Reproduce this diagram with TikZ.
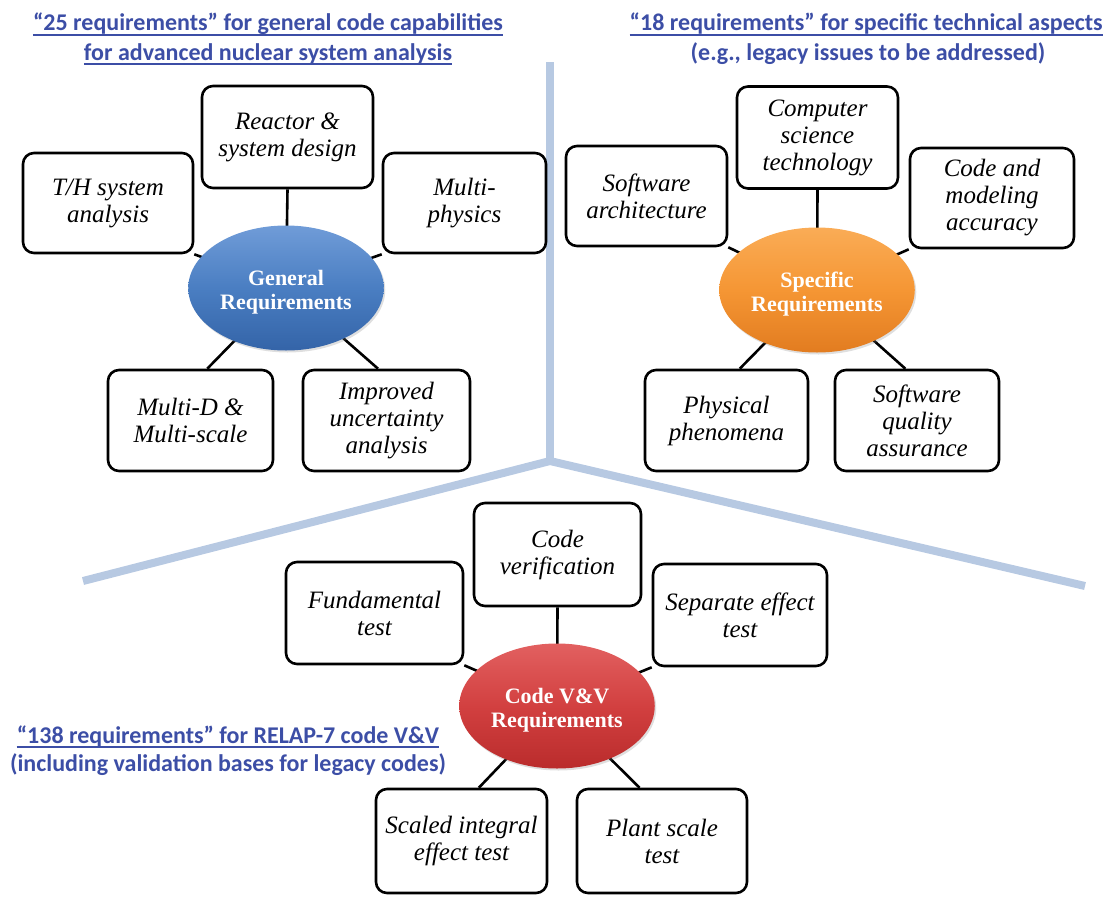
\documentclass[tikz,border=0pt]{standalone}
\usepackage{fontspec}
\setmainfont{Liberation Serif}
\newfontfamily\headfont{Carlito}
\usetikzlibrary{shapes.geometric,calc,backgrounds,shadows}
\definecolor{headblue}{RGB}{60,78,166}
\definecolor{branchblue}{RGB}{183,201,226}
\newcommand\hubtext[2]{\raisebox{-5pt}[\height][\depth]{\begin{tabular}{@{}c@{}}#1\\#2\end{tabular}}}
\tikzset{
  reqbox/.style={draw=black, line width=2.6pt, rounded corners=11pt, fill=white,
    font=\fontsize{25}{27}\selectfont\itshape, align=center, inner sep=0pt},
  hub/.style={ellipse, draw=none, minimum width=192pt, minimum height=125pt,
    font=\fontsize{22}{23.5}\selectfont\bfseries, text=white, align=center,
    drop shadow={opacity=0.25, shadow xshift=1.5pt, shadow yshift=-2pt}},
  link/.style={line width=2.6pt, black},
  heading/.style={font=\headfont\bfseries\fontsize{24}{29}\selectfont, text=headblue, inner sep=0pt, anchor=base},
  ul/.style={line width=1.4pt, headblue},
  branch/.style={line width=8pt, branchblue},
}
\begin{document}
\begin{tikzpicture}[x=1pt,y=-1pt]
\useasboundingbox (0,0) rectangle (1107,899);
% background branches
\coordinate (jtop) at (550,62);
\coordinate (jmid) at (550,461);
\coordinate (jleft) at (83,581);
\coordinate (jright) at (1085,586);
\draw[branch] (jtop) -- (jmid);
\draw[branch, line join=miter] (jleft) -- (jmid) -- (jright);

% headings
\node[heading] (h1a) at (268,31) {“25 requirements” for general code capabilities};
\node[heading] (h1b) at (268,60) {for advanced nuclear system analysis};
\node[heading, anchor=base east] (h2a) at (1103,31) {“18 requirements” for specific technical aspects};
\node[heading] (h2b) at (868,60) {(e.g., legacy issues to be addressed)};
\node[heading] (h3a) at (228,743) {“138 requirements” for RELAP-7 code V\&V};
\node[heading] (h3b) at (228,771) {(including validation bases for legacy codes)};
\foreach \h in {h1a,h1b,h2a,h3a}{
  \draw[ul] ($(\h.base west)+(0,4)$) -- ($(\h.base east)+(0,4)$);
}

% ---------- General cluster
\node[hub, top color={rgb,255:red,112;green,156;blue,216}, bottom color={rgb,255:red,52;green,100;blue,168}, middle color={rgb,255:red,74;green,126;blue,194}] (gen) at (286,288) {\hubtext{General}{Requirements}};
\node[reqbox, minimum width=171pt, minimum height=102pt] (reac) at (287.5,137) {Reactor \&\\system design};
\node[reqbox, minimum width=170pt, minimum height=100pt] (th) at (108,203) {T/H system\\analysis};
\node[reqbox, minimum width=163pt, minimum height=100pt] (mp) at (464.5,203) {Multi-\\physics};
\node[reqbox, minimum width=165pt, minimum height=101pt] (md) at (190.5,420.5) {Multi-D \&\\Multi-scale};
\node[reqbox, minimum width=167pt, minimum height=101pt] (imp) at (386.5,420.5) {Improved\\uncertainty\\analysis};
\begin{scope}[on background layer]
\draw[link] (reac.south) -- (gen.center);
\draw[link] (th.south east) -- (gen.center);
\draw[link] (mp.south west) -- (gen.center);
\draw[link] ($(md.north west)!0.6!(md.north east)$) -- (gen.center);
\draw[link] ($(imp.north west)!0.45!(imp.north east)$) -- (gen.center);
\end{scope}

% ---------- Specific cluster
\node[hub, top color={rgb,255:red,250;green,172;blue,86}, bottom color={rgb,255:red,226;green,124;blue,32}, middle color={rgb,255:red,245;green,150;blue,52}] (spec) at (817,290) {\hubtext{Specific}{Requirements}};
\node[reqbox, minimum width=161pt, minimum height=102pt] (cst) at (817.5,137.5) {Computer\\science\\technology};
\node[reqbox, minimum width=161pt, minimum height=100pt] (sa) at (646.5,196) {Software\\architecture};
\node[reqbox, minimum width=164pt, minimum height=100pt] (cma) at (992,198) {Code and\\modeling\\accuracy};
\node[reqbox, minimum width=163pt, minimum height=101pt] (phys) at (726.5,420.5) {Physical\\phenomena};
\node[reqbox, minimum width=164pt, minimum height=101pt] (sqa) at (917,420.5) {Software\\quality\\assurance};
\begin{scope}[on background layer]
\draw[link] (cst.south) -- (spec.center);
\draw[link] (sa.south east) -- (spec.center);
\draw[link] (cma.south west) -- (spec.center);
\draw[link] ($(phys.north west)!0.58!(phys.north east)$) -- (spec.center);
\draw[link] ($(sqa.north west)!0.43!(sqa.north east)$) -- (spec.center);
\end{scope}

% ---------- V&V cluster
\node[hub, top color={rgb,255:red,226;green,96;blue,96}, bottom color={rgb,255:red,186;green,44;blue,44}, middle color={rgb,255:red,210;green,64;blue,64}] (vv) at (557,706) {\hubtext{Code V\&V}{Requirements}};
\node[reqbox, minimum width=167pt, minimum height=103pt] (cv) at (557.5,554.5) {Code\\verification};
\node[reqbox, minimum width=177pt, minimum height=102pt] (fund) at (374.5,613) {Fundamental\\test};
\node[reqbox, minimum width=174pt, minimum height=102pt] (sep) at (740,615) {Separate effect\\test};
\node[reqbox, minimum width=171pt, minimum height=104pt] (sie) at (461.5,841) {Scaled integral\\effect test};
\node[reqbox, minimum width=170pt, minimum height=104pt] (pst) at (662,841) {Plant scale\\test};
\begin{scope}[on background layer]
\draw[link] (cv.south) -- (vv.center);
\draw[link] (fund.south east) -- (vv.center);
\draw[link] (sep.south west) -- (vv.center);
\draw[link] ($(sie.north west)!0.6!(sie.north east)$) -- (vv.center);
\draw[link] ($(pst.north west)!0.37!(pst.north east)$) -- (vv.center);
\end{scope}
\end{tikzpicture}
\end{document}
